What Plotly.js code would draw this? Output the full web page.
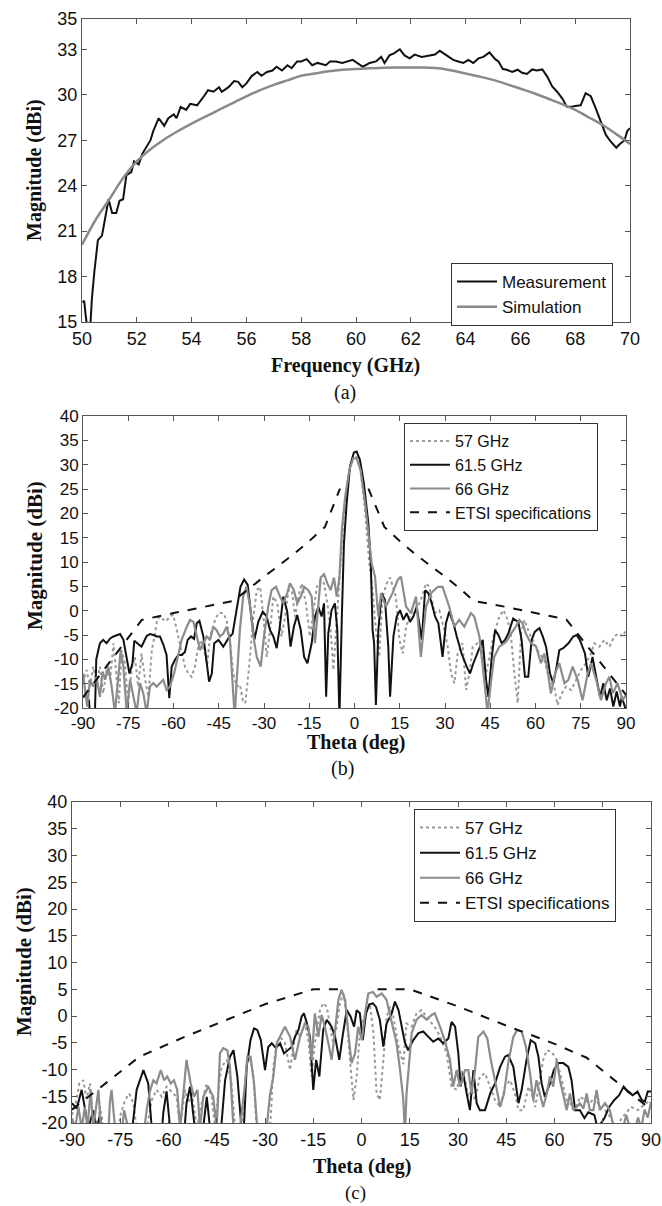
<!DOCTYPE html>
<html><head><meta charset="utf-8">
<script src="https://cdn.plot.ly/plotly-3.0.1.min.js"></script>
<style>html,body{margin:0;padding:0;background:#fff}#chart{width:662px;height:1206px}</style>
</head><body><div id="chart"></div>
<script>
// ---------- (a) gain vs frequency ----------
const measA = [[50.02,16.3],[50.08,16.4],[50.13,15.5],[50.2,14.5],[50.3,14.6],[50.36,16.5],[50.45,18.3],[50.58,20.4],[50.73,20.7],[50.85,22.0],[50.97,23.1],[51.1,22.2],[51.25,22.2],[51.37,23.0],[51.5,23.1],[51.62,24.7],[51.8,24.9],[51.9,25.6],[52.07,25.4],[52.2,26.1],[52.37,26.6],[52.5,27.0],[52.6,27.6],[52.8,28.45],[53.0,27.95],[53.15,28.45],[53.35,28.7],[53.45,28.45],[53.6,29.2],[53.8,29.0],[53.95,29.4],[54.2,29.3],[54.45,29.9],[54.6,30.3],[54.8,30.2],[55.0,30.5],[55.1,30.2],[55.35,30.5],[55.55,30.9],[55.7,30.85],[55.85,30.5],[56.0,30.75],[56.2,31.25],[56.4,31.5],[56.55,31.25],[56.75,31.5],[56.95,31.6],[57.1,31.85],[57.3,31.6],[57.5,31.95],[57.65,31.75],[57.85,32.2],[58.0,32.2],[58.2,32.35],[58.4,31.95],[58.6,32.1],[58.9,31.95],[59.05,32.2],[59.27,32.2],[59.5,32.1],[59.88,32.3],[60.25,31.85],[60.5,32.1],[60.73,32.2],[60.92,32.5],[61.04,32.1],[61.22,32.6],[61.4,32.75],[61.6,33.0],[61.77,32.6],[61.96,32.4],[62.14,32.65],[62.4,32.5],[62.63,32.55],[62.88,32.65],[63.06,32.9],[63.3,32.6],[63.55,32.3],[63.73,32.2],[63.92,32.1],[64.1,32.3],[64.28,32.1],[64.47,32.4],[64.65,32.5],[64.87,32.8],[65.08,32.35],[65.2,32.2],[65.36,31.7],[65.5,31.65],[65.7,31.5],[65.9,31.65],[66.06,31.45],[66.24,31.37],[66.43,31.67],[66.6,31.6],[66.8,31.67],[66.98,31.2],[67.16,30.55],[67.34,30.2],[67.53,29.75],[67.7,29.2],[67.86,29.2],[68.0,29.25],[68.2,29.3],[68.38,30.1],[68.57,29.9],[68.75,29.1],[68.94,28.2],[69.12,27.35],[69.3,26.9],[69.5,26.5],[69.6,26.7],[69.8,27.0],[69.9,27.6],[70.0,27.8]];
const simA = [[50,20.1],[50.5,21.75],[51,23.1],[51.5,24.5],[52,25.6],[52.5,26.4],[53,27.05],[53.5,27.6],[54,28.1],[54.5,28.55],[55,29.0],[55.5,29.45],[56,29.9],[56.5,30.3],[57,30.65],[57.5,30.95],[58,31.25],[58.5,31.4],[59,31.55],[59.5,31.65],[60,31.7],[60.5,31.75],[61,31.78],[61.5,31.8],[62,31.8],[62.5,31.8],[63,31.75],[63.5,31.6],[64,31.4],[64.5,31.2],[65,30.98],[65.5,30.7],[66,30.4],[66.5,30.1],[67,29.75],[67.5,29.4],[68,29.0],[68.5,28.5],[69,28.0],[69.5,27.4],[70,26.75]];
const ticksA_x = [50,52,54,56,58,60,62,64,66,68,70];
const ticksA_y = [15,18,21,24,27,30,33,35];

// ---------- (b) radiation patterns ----------
const b57 = [[-90,-14.9],[-88.8,-12.2],[-87.7,-15.6],[-86.6,-11.5],[-85.5,-14.9],[-84.4,-11.5],[-83.3,-17],[-82.2,-12.2],[-81,-14.2],[-79.9,-6.7],[-78.8,-14.2],[-78.1,-19],[-77.2,-8.1],[-76.1,-10.8],[-75,-19],[-73.9,-12.2],[-72.8,-9.5],[-71.7,-15.6],[-70.6,-8.8],[-69.4,-14.2],[-68.3,-17.7],[-67.2,-8.1],[-66.1,-4.7],[-65.4,-1.6],[-64.3,-1.2],[-62.8,-2.2],[-61.2,-1.4],[-60.2,-0.8],[-59.5,-2.3],[-58.4,-5.3],[-57.3,-8.1],[-56.2,-11.5],[-55.1,-12.9],[-54,-13.6],[-52.9,-11.5],[-51.8,-7.4],[-50.7,-6],[-49.6,-8.8],[-48.8,-11],[-47.9,-5.3],[-46.2,-1.9],[-45.1,-0.5],[-43.5,-0.5],[-42.4,-1.9],[-41.3,-6],[-40.2,-12.9],[-39.1,-15.6],[-38,-15.2],[-37,-18.5],[-36.2,-19],[-35,-12],[-33.5,-1.2],[-32.4,4.2],[-31.3,4.9],[-30.2,-1.2],[-29.1,-9.5],[-28,-4],[-26.9,2.9],[-25.6,1.5],[-24.2,-5.3],[-23,-1.2],[-21.9,4.2],[-20.8,4.2],[-19.7,-1.2],[-18.6,2.9],[-17.5,5.6],[-16.1,1.5],[-14.8,-5.3],[-13.7,0.1],[-12.5,4.9],[-11.2,6.3],[-10.1,5.6],[-9,1.5],[-7.9,-4],[-7,-12.2],[-6.1,-4],[-5.4,4.2],[-4.6,11.1],[-3.5,20],[-2,28.2],[-0.6,31.6],[0.7,31.6],[2,28.9],[3.5,20.7],[4.9,9.7],[6,4.2],[7.1,-4],[8.2,-9.5],[9.3,2.9],[10.7,5.6],[11.8,6.8],[13.7,2.9],[14.9,-6],[16,-8.8],[17.1,-3.3],[18.7,-0.5],[20.4,0.1],[22,2.2],[23.7,5.6],[24.8,4.9],[26.5,-0.5],[28.1,0.1],[29.8,-4],[30.9,-7.4],[32,-12.9],[33.1,-14.9],[34.2,-8.8],[35.8,-6.7],[37,-16.3],[38.1,-12.9],[39.2,-7.4],[40.8,-6.7],[42.1,-7.4],[43.6,-12.9],[45,-8.8],[46.3,-4.7],[48,-1.2],[49.4,0.1],[50.8,-1.9],[51.9,-5.3],[53,-12.9],[54.1,-19],[55.2,-4.7],[56.3,-1.9],[58,-4.7],[59.6,-6.7],[61.3,-8.8],[62.9,-10.1],[64.6,-14.2],[66.2,-15.6],[67.3,-19.4],[68.7,-17],[70.1,-15.6],[71.8,-16.3],[73.4,-14.2],[75.1,-12.2],[76.7,-10.8],[78.4,-8.8],[79.5,-6.7],[81.2,-7.4],[82.8,-6],[84.5,-7.4],[86.1,-5.3],[87.5,-4.7],[88.9,-5.3],[90,-4]];
const b61 = [[-90,-17.8],[-89,-17.3],[-88,-18.5],[-87.3,-25],[-86.2,-25],[-85.6,-10],[-84.4,-6.7],[-83.3,-6.0],[-82.2,-6.7],[-81,-5.7],[-79.9,-5.3],[-78.8,-5.0],[-77.7,-4.8],[-76.6,-6.0],[-75.5,-9.5],[-74.6,-12.9],[-73.6,-10.8],[-73,-6.2],[-72,-6.7],[-70.6,-7.4],[-68.9,-5.2],[-67.8,-4.8],[-66.7,-5.0],[-65.6,-5.3],[-64.5,-5.3],[-63.4,-6.9],[-62.3,-9.1],[-61.4,-18.0],[-60.6,-11.5],[-59.5,-10.1],[-58.4,-9.1],[-57.3,-9.1],[-56.2,-8.5],[-55.3,-6.0],[-54.2,-5.3],[-53.2,-5.8],[-52.3,-2.6],[-51.4,-2.1],[-50.1,-5.3],[-49,-10.1],[-48.2,-14.6],[-47.3,-12.9],[-46.5,-6.7],[-45.1,-6.0],[-43.5,-7.4],[-41.8,-5.7],[-40.4,-4.7],[-39.1,0.1],[-37.8,4.9],[-36.6,6.4],[-35.4,5.3],[-34.2,-1.2],[-33.2,-6.0],[-31.9,-2.3],[-30.4,-0.2],[-29.1,-1.2],[-28,-4],[-26.9,-5.3],[-25.8,-7.7],[-24.9,-4],[-23.6,2.9],[-22.3,-0.2],[-21.2,-7.4],[-20.1,-3.3],[-19,-0.9],[-17.8,-4],[-16.7,-9.5],[-15.6,-10.8],[-14.2,-6.7],[-13.1,-1.2],[-12,0.8],[-10.9,-1.2],[-10.1,1.5],[-9.4,-17.7],[-8.7,-4.7],[-7.6,0.1],[-6.5,1.5],[-5.7,-4],[-5,-22],[-4.2,-1.2],[-3.5,13.8],[-2.6,22.1],[-1.5,29.6],[-0.2,32.5],[0.7,32.7],[1.8,31],[3.1,26.2],[4.6,17.9],[5.4,9.7],[6,-4],[6.5,-6.7],[7.1,-19.4],[7.9,-4],[9,3.6],[10.1,2.2],[11.2,-7.4],[11.8,-17.7],[12.9,-5.3],[14,-1.2],[15.1,0.1],[16.2,-1.9],[17.3,-0.5],[18.4,-2.3],[19.5,-1.2],[20.6,0.8],[22.3,-6],[23.4,4.2],[24.5,3.6],[25.6,1.5],[26.7,-1.2],[27.8,-2.6],[29.2,-9.5],[30.3,-2.6],[31.4,-0.2],[32.8,-2.6],[33.9,-5.3],[35.5,-8.8],[37.2,-11.5],[38.3,-12.9],[39.4,-10.8],[41,-8.1],[42.5,-6.0],[43.6,-14.2],[44.4,-17.7],[45.5,-9.5],[46.6,-4],[47.7,-5],[48.8,-6.7],[49.9,-6.0],[51,-4.7],[52.6,-1.6],[54.3,-2.3],[55.4,-6],[56.5,-13.6],[57.6,-13.6],[58.7,-6],[59.8,-4.3],[61.3,-3.6],[62.4,-5.3],[63.5,-7.4],[64.8,-12.9],[65.9,-14.9],[67,-11.5],[67.9,-8.1],[69.2,-7.7],[70.9,-6.7],[72.5,-5.3],[73.6,-5],[74.7,-6],[76.4,-8.8],[77.5,-13.6],[78.9,-9.5],[80.3,-14.2],[81.4,-17.7],[82.5,-14.9],[83.6,-18.4],[84.7,-16],[85.8,-19.7],[86.9,-16.6],[88,-19.7],[88.6,-17.7],[90,-20.5]];
const b66 = [[-90,-12.9],[-88.6,-19.7],[-87.7,-14.2],[-86.6,-15.6],[-85.5,-13.6],[-84.4,-17.7],[-83.5,-12.5],[-82.7,-14.2],[-81.6,-11.5],[-80.5,-15.6],[-79.4,-21],[-78.3,-12.9],[-77.5,-8.1],[-76.6,-11.5],[-75.5,-21],[-74.4,-14.2],[-73.3,-17.7],[-72.2,-21],[-71.1,-14.9],[-70,-17],[-68.9,-21],[-67.8,-15.6],[-66.7,-14.9],[-65.6,-15.6],[-64.5,-14.9],[-63.4,-14.2],[-62.3,-16.3],[-61.2,-15.6],[-59.8,-12.9],[-58.4,-8.8],[-57.3,-6.0],[-55.6,-3.3],[-54.5,-1.9],[-53.4,-2.3],[-52.3,-5.3],[-51.2,-8.1],[-50.1,-6.7],[-49,-5.3],[-47.9,-6],[-46.8,-3.3],[-45.7,-4],[-44.6,-5.3],[-43.5,-4.7],[-42.4,-3.3],[-41.3,-6],[-40.4,-14.9],[-39.7,-22],[-39.1,-14.9],[-38,-4],[-36.9,2.9],[-35.8,4.9],[-34.6,0.8],[-33.5,-5.3],[-32.4,-9.5],[-31.1,-11.5],[-30,-5.3],[-28.6,0.8],[-27.5,4.2],[-26,4.9],[-24.7,2.9],[-23.6,1.5],[-22.3,3.6],[-21.4,5.6],[-20.1,4.2],[-19,1.5],[-17.8,2.9],[-16.7,4.9],[-15.3,4.2],[-14.2,2.9],[-13.1,-6.7],[-12.3,-1.2],[-11.2,6.8],[-10.1,7.5],[-9,5.6],[-7.9,4.2],[-6.8,6.8],[-5.9,2.9],[-5,6.8],[-4.2,16.6],[-3.1,23.4],[-1.7,28.9],[-0.4,31.3],[0.7,31.3],[2,28.9],[3.5,22.1],[4.6,15.2],[5.7,9.7],[6.8,7],[7.9,-1.2],[8.8,3.6],[10.4,0.8],[12.6,3.6],[14.3,6.3],[15.4,7.0],[17.1,0.8],[18.7,-0.5],[20.4,2.9],[22,-9.5],[23.7,0.8],[25.4,3.6],[27.6,4.9],[29.2,4.9],[31.4,0.8],[33.1,-3.3],[34.7,-1.9],[36.4,-3.3],[38.6,-0.5],[39.7,-1.2],[41.4,-5.3],[43,-14.2],[44.1,-21],[45.2,-14.9],[46.3,-9.5],[48,-7.4],[49.7,-6.7],[50.8,-6],[51.9,-4.7],[53.5,-3.3],[54.6,-1.9],[55.7,-2.6],[56.8,-4.7],[58.5,-6.7],[60.2,-7.4],[61.8,-10.8],[62.9,-8.8],[64,-12.2],[65.1,-17],[66.5,-12.9],[67.9,-10.8],[69.6,-14.9],[70.9,-14.2],[72.3,-11.5],[74,-14.2],[75.6,-18.4],[77.3,-12.9],[78.4,-10.8],[80.1,-14.2],[81.7,-18.4],[83.4,-14.9],[84.5,-13.6],[85.6,-17],[87.2,-14.9],[88.9,-18.4],[90,-17.3]];
const bEtsiX = [-90,-70.5,-60,-50,-40.2,-35,-30,-25,-20,-15,-9.8,-4.8,null,4.6,9.9,15,20,25,30,35,39.5,50,60,70.2,90];
const bEtsiY = [-17.8,-1.9,-0.5,0.8,2.0,4.5,7,9.3,11.7,14.3,17.2,25.1,null,25.1,17.2,14.3,11.7,9.3,7,4.5,2.0,0.8,-0.5,-1.8,-17.3];

// ---------- (c) radiation patterns ----------
const c57 = [[-90,-18.5],[-88.8,-16.3],[-87.7,-12.6],[-86.5,-12],[-85.5,-15.5],[-84.4,-12.6],[-83.5,-20],[-82.5,-25],[-81.3,-17],[-80.2,-21],[-79,-25],[-75.8,-25],[-75.1,-18.8],[-73.5,-15.7],[-72.2,-14.5],[-70.9,-16.3],[-69.9,-21],[-68,-25],[-66.8,-21],[-65.2,-15.7],[-63.7,-13.8],[-62.1,-15.1],[-60.6,-13.2],[-59,-14.1],[-57.5,-15.1],[-56.4,-21],[-54.9,-13.8],[-53.8,-16.3],[-52.8,-14.1],[-51.2,-21],[-49.7,-16.3],[-48.1,-12.6],[-46.6,-15.1],[-45.5,-21],[-44.5,-14],[-43.5,-9.5],[-41.9,-8.2],[-40.4,-12.6],[-39.3,-21],[-38.3,-25],[-37.3,-21],[-35.7,-9.5],[-34.7,-7.6],[-33.6,-11.3],[-32.6,-21],[-31,-25],[-28.4,-21],[-27.4,-9.5],[-26.4,-5.1],[-25.3,-3.9],[-23.8,-5.1],[-22.2,-10.1],[-21.2,-5.7],[-20.2,-2.6],[-19.1,-3.9],[-17.6,-1.3],[-16.5,-4.5],[-15.5,-11.3],[-14.5,-5.1],[-12.9,1.1],[-11.9,2.4],[-10.8,1.7],[-9.8,-2],[-8.8,-5.1],[-7.7,-2],[-6.7,2.4],[-5.6,4.2],[-4.6,-0.1],[-3.6,-8.2],[-2.5,-15.7],[-1.5,-11.3],[-0.5,-3.2],[0.6,-0.7],[1.6,1.1],[2.6,2.4],[3.7,-3.2],[4.7,-14.5],[5.7,-15.7],[6.8,-8.2],[7.8,-0.1],[8.9,1.7],[9.9,-0.1],[11.5,-5.7],[13,-9],[14,-1.4],[15.6,-2],[17.1,0.5],[18.7,1.1],[20.2,-0.1],[21.8,-1.4],[23.4,-2.6],[24.9,-4.5],[26.5,-7],[28,-13.2],[29.6,-13.8],[31.1,-10.1],[32.2,-12],[33.2,-15.1],[34.2,-13.8],[35.3,-15.7],[36.8,-11.3],[38.4,-10.7],[40,-13.2],[41.5,-15.7],[43.1,-17],[44.6,-13.2],[46.2,-12],[47.7,-14.5],[48.8,-17.6],[50.3,-17.6],[51.9,-13.2],[52.9,-14.5],[54,-17],[55.3,-12.6],[56.5,-8.2],[57.6,-6.4],[59.1,-6.7],[60.7,-8.2],[61.7,-10.7],[62.7,-13.2],[63.8,-15.7],[64.8,-16.3],[66.4,-17.6],[67.9,-15.1],[69.5,-15.7],[71,-16.3],[72.6,-15.1],[74.1,-17],[75.7,-17.6],[77.5,-19],[79,-21],[81,-19],[83.8,-17],[86,-17.6],[88,-16.5],[90,-15.7]];
const c61 = [[-90,-16.3],[-88.5,-17.3],[-87,-13.8],[-86,-17.6],[-84.9,-21],[-83.4,-17.6],[-82.3,-21],[-81.3,-18.5],[-80.3,-25],[-72,-25],[-71,-20],[-69.9,-13.8],[-67.8,-10.1],[-66.3,-12.6],[-65.2,-21],[-62.5,-25],[-61.6,-18],[-60.6,-14.1],[-59.5,-21],[-58,-25],[-55.5,-25],[-54.4,-16.3],[-53.3,-13.2],[-51.8,-21],[-50,-25],[-48.8,-18],[-48.1,-15.1],[-47.1,-21],[-46,-25],[-44,-25],[-43.5,-20],[-42.4,-12],[-40.9,-7.6],[-39.8,-6.4],[-38.6,-11.3],[-37.3,-21],[-36.5,-20],[-35.7,-9.5],[-34.5,-4.5],[-33.4,-2.3],[-32.4,-2.6],[-31.3,-4.5],[-30,-10.1],[-29,-5.8],[-27.9,-5.1],[-26.6,-6],[-25.3,-5.1],[-24.1,-7],[-22.7,-6.4],[-21.7,-5.8],[-20.7,-3.9],[-19.6,-2.6],[-18.6,-0.1],[-17.9,0.5],[-17,-1.3],[-16,-3.9],[-15,-13.8],[-14.1,-8.2],[-13.1,-11.3],[-11.9,-2.6],[-10.8,-0.7],[-9.3,-2],[-8.2,-3.9],[-6.9,-8.2],[-5.9,-3.9],[-4.6,1.1],[-3.4,-0.1],[-2.3,-2],[-1.5,1.1],[-0.5,0.5],[0.4,-4.5],[1.4,0.5],[2.4,2.1],[3.5,2.4],[4.5,1.7],[5.7,-0.7],[6.8,-5.7],[7.8,-1.4],[9.4,0.5],[10.4,2.7],[11.5,1.1],[12.5,-2],[13.5,-5],[14.5,-6.4],[16.1,-4.5],[17.7,-3.2],[19.2,-2.9],[20.8,-3.9],[22.3,-4.8],[23.9,-4.2],[25.4,-5.1],[27,-4.2],[28,-1.1],[29.1,-2],[30.1,-7],[30.8,-13.2],[31.6,-10.7],[32.7,-14.5],[33.7,-17.6],[34.8,-10.1],[35.8,-16.3],[36.8,-17.6],[38.4,-17.6],[40,-14.5],[41.5,-12.6],[43.1,-9.5],[44.6,-7.6],[45.6,-7.3],[47.2,-9.5],[48.8,-16.3],[49.8,-13.8],[51.3,-8.2],[52.6,-4.5],[54,-5.1],[55,-7.6],[56,-12.6],[57,-15.1],[58.6,-12.6],[59.8,-10.1],[61.2,-8.8],[62.7,-8.8],[64.3,-9.5],[65.3,-12],[66.4,-17.6],[67.9,-17.6],[69.3,-19.1],[70.5,-18],[72.4,-18.5],[73.4,-21],[75.5,-19.1],[77,-17],[78.6,-15.7],[80.1,-14.8],[81.5,-13.2],[82.7,-14.1],[84.3,-14.8],[85.8,-14.1],[87.1,-15.7],[88.1,-16],[89,-14.1],[90,-14.1]];
const c66 = [[-90,-19.1],[-89,-21],[-88,-17],[-87,-21],[-86,-17],[-85.2,-21],[-84.2,-13.8],[-83.4,-21],[-81.8,-13.8],[-81,-21],[-79,-25],[-78.2,-16],[-77.7,-13.8],[-76.6,-21],[-75,-25],[-73.8,-17.6],[-72.5,-21],[-70,-25],[-67.5,-21],[-66.8,-17.6],[-65.8,-14.1],[-64.7,-12],[-63.7,-12.6],[-62.4,-10.1],[-61.4,-12],[-60.4,-11.3],[-59.3,-12.6],[-58.3,-12],[-57.3,-13.8],[-56.4,-21],[-55.3,-14],[-54.4,-8.2],[-53.1,-12.6],[-52.1,-15.1],[-51,-13.8],[-50.2,-21],[-49.2,-15.1],[-47.6,-13.2],[-46.1,-15.1],[-45,-21],[-44,-7],[-43,-6],[-41.7,-6.4],[-40.9,-9.5],[-39.8,-21],[-38.5,-25],[-37.8,-21],[-36.2,-12.6],[-35.5,-7.6],[-34.5,-7.6],[-33.4,-12.6],[-32.4,-21],[-31,-25],[-29.5,-21],[-28.5,-15],[-27.4,-11.3],[-26.3,-5],[-25.3,-3.9],[-23.8,-2],[-22.2,-3.9],[-20.7,-8.2],[-19.1,-3.9],[-17.6,-1.4],[-16.5,-2],[-15.5,-8.2],[-14.5,0.5],[-13.4,-3.9],[-12.4,0.2],[-11.4,-2],[-10.3,-5.1],[-9.3,-8.2],[-8.2,-2.6],[-7.2,3],[-6.2,4.9],[-5.1,3],[-4.1,-3.2],[-3.1,-8.8],[-2,-7],[-1,-2],[0.1,-4.5],[1.1,0.5],[2.1,4.2],[3.5,4.5],[4.7,3.6],[6.3,4.2],[7.8,3],[9.4,-1.4],[10.9,-5.1],[12,-10.1],[13,-15.7],[13.5,-22],[14,-14.5],[15.6,-3.2],[17.1,-0.7],[18.7,0.2],[20.2,-0.7],[21.8,0.2],[22.8,0.5],[24.4,-2],[26,-4.8],[27.5,-8.2],[28.5,-13.2],[29.6,-10.1],[30.6,-13.2],[32.2,-10.1],[33.2,-10.1],[34.2,-14.5],[35.3,-10.1],[36.3,-3.9],[37.9,-2.9],[39.1,-4.2],[40.2,-8.2],[41.5,-12],[43.1,-17],[44.3,-14.5],[45.6,-8.8],[47.2,-3.9],[48.4,-2.6],[49.8,-2.9],[51.1,-5.7],[52.4,-10.7],[53.4,-15.7],[54.4,-12],[55.5,-14.5],[56.5,-17],[57.6,-14.5],[58.6,-11.3],[59.6,-13.2],[60.7,-8.2],[61.7,-12],[62.7,-14.5],[63.8,-17.6],[64.8,-14.5],[65.8,-17.6],[66.9,-17],[67.9,-16.3],[69,-17.3],[70,-14.5],[71,-17.6],[72.1,-17.6],[73.1,-13.8],[74.1,-17.6],[75.7,-16.3],[77.2,-17.6],[78.5,-21],[80,-25],[81.3,-21],[82.3,-18.5],[83.5,-21],[85,-21],[86,-19],[87,-21],[88,-17.5],[89,-19],[90,-16]];
const cEtsiX = [-90,-69,-55,-42,-30,-15,-5,null,5,15,30,45,60,70,90];
const cEtsiY = [-17.5,-7.6,-3.9,-0.8,2.2,5,5,null,5,5,1.8,-1.8,-5.2,-7.8,-17.5];

const thetaTicks = [-90,-75,-60,-45,-30,-15,0,15,30,45,60,75,90];
const magTicks = [-20,-15,-10,-5,0,5,10,15,20,25,30,35,40];
const legendNames = ['57 GHz','61.5 GHz','66 GHz','ETSI specifications'];

// ---------- build ----------
const W = 662, H = 1206;
const px = p => p / W, py = p => 1 - p / H;
const X = a => a.map(p => p[0]), Y = a => a.map(p => p[1]);
const SANS = 'Liberation Sans, Arial, sans-serif';
const SERIF = 'Liberation Serif, Times New Roman, serif';
const GREY = '#8c8c8c', DOT = '#9a9a9a', BLACK = '#111';

function patternTraces(d57, d61, d66, ex, ey, xa, ya, lg) {
  return [
    {x: X(d57), y: Y(d57), xaxis: xa, yaxis: ya, legend: lg, name: legendNames[0], mode: 'lines', line: {color: DOT, width: 2, dash: 'dot'}},
    {x: X(d61), y: Y(d61), xaxis: xa, yaxis: ya, legend: lg, name: legendNames[1], mode: 'lines', line: {color: BLACK, width: 2}},
    {x: X(d66), y: Y(d66), xaxis: xa, yaxis: ya, legend: lg, name: legendNames[2], mode: 'lines', line: {color: GREY, width: 2.2}},
    {x: ex, y: ey, xaxis: xa, yaxis: ya, legend: lg, name: legendNames[3], mode: 'lines', connectgaps: false, line: {color: BLACK, width: 2, dash: 'dash'}}
  ];
}

const traces = [
  {x: X(measA), y: Y(measA), xaxis: 'x', yaxis: 'y', legend: 'legend', name: 'Measurement', mode: 'lines', line: {color: BLACK, width: 2}},
  {x: X(simA), y: Y(simA), xaxis: 'x', yaxis: 'y', legend: 'legend', name: 'Simulation', mode: 'lines', line: {color: '#8a8a8a', width: 2.5, shape: 'spline'}},
  ...patternTraces(b57, b61, b66, bEtsiX, bEtsiY, 'x2', 'y2', 'legend2'),
  ...patternTraces(c57, c61, c66, cEtsiX, cEtsiY, 'x3', 'y3', 'legend3')
];

function ax(extra, fs) {
  return Object.assign({
    showline: true, linecolor: '#555', linewidth: 1, mirror: 'ticks',
    ticks: 'inside', ticklen: 5, tickcolor: '#555', tickwidth: 1,
    showgrid: false, zeroline: false, fixedrange: true,
    tickfont: {family: SANS, size: fs, color: '#111'}
  }, extra);
}
const lab = v => String(v);

function legendCfg(x, y, fs) {
  return {x: px(x), y: py(y), xanchor: 'left', yanchor: 'top', xref: 'paper', yref: 'paper',
    bgcolor: '#fff', bordercolor: '#333', borderwidth: 1, tracegroupgap: 0,
    font: {family: SANS, size: fs, color: '#111'}, itemwidth: 40};
}

function ann(text, x, y, size, bold, angle, family) {
  return {text: text, x: px(x), y: py(y), xref: 'paper', yref: 'paper', showarrow: false,
    xanchor: 'center', yanchor: 'middle', textangle: angle || 0,
    font: {family: family || SERIF, size: size, color: '#111', weight: bold ? 'bold' : 'normal'}};
}

const layout = {
  width: W, height: H, margin: {l: 0, r: 0, t: 0, b: 0},
  paper_bgcolor: '#fff', plot_bgcolor: '#fff', showlegend: true,
  xaxis: ax({domain: [px(82), px(630)], anchor: 'y', range: [50, 70], tickvals: ticksA_x, ticktext: ticksA_x.map(lab)}, 18),
  yaxis: ax({domain: [py(322), py(19)], anchor: 'x', range: [15, 35], tickvals: ticksA_y, ticktext: ticksA_y.map(lab)}, 18),
  xaxis2: ax({domain: [px(83), px(626)], anchor: 'y2', range: [-90, 90], tickvals: thetaTicks, ticktext: thetaTicks.map(lab)}, 17),
  yaxis2: ax({domain: [py(708), py(416)], anchor: 'x2', range: [-20, 40], tickvals: magTicks, ticktext: magTicks.map(lab)}, 17),
  xaxis3: ax({domain: [px(72), px(651)], anchor: 'y3', range: [-90, 90], tickvals: thetaTicks, ticktext: thetaTicks.map(lab)}, 18),
  yaxis3: ax({domain: [py(1123), py(802)], anchor: 'x3', range: [-20, 40], tickvals: magTicks, ticktext: magTicks.map(lab)}, 18),
  legend: legendCfg(451, 263, 17),
  legend2: legendCfg(404, 423, 16),
  legend3: legendCfg(414, 809, 17),
  annotations: [
    ann('Magnitude (dBi)', 34, 170, 20, true, -90),
    ann('Frequency (GHz)', 345, 365, 20, true),
    ann('(a)', 345, 392, 20, false),
    ann('Magnitude (dBi)', 35, 556, 21, true, -90),
    ann('Theta (deg)', 356, 742, 20, true),
    ann('(b)', 342, 768, 20, false),
    ann('Magnitude (dBi)', 24, 962, 21, true, -90),
    ann('Theta (deg)', 362, 1166, 20, true),
    ann('(c)', 355, 1193, 19, false)
  ]
};

Plotly.newPlot('chart', traces, layout, {staticPlot: true, displayModeBar: false});
</script>
</body></html>
